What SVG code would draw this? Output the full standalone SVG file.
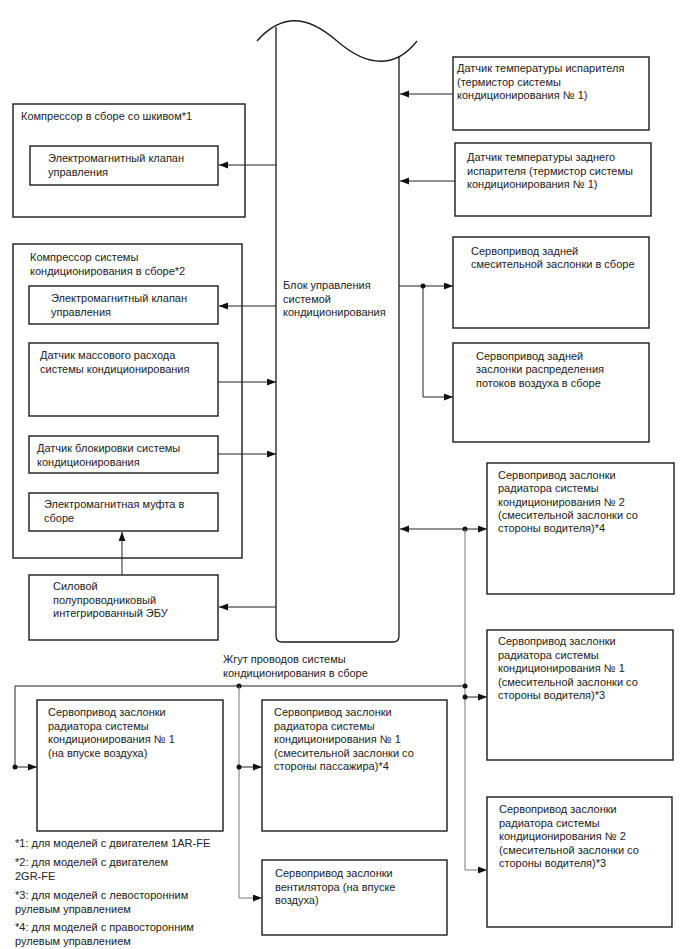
<svg xmlns="http://www.w3.org/2000/svg" width="688" height="949" viewBox="0 0 688 949">
<style>
text{font-family:"Liberation Sans",Arial,sans-serif;font-size:11px;fill:#222}
.box{fill:#fff;stroke:#1a1a1a;stroke-width:1.4}
.blk{fill:none;stroke:#1a1a1a;stroke-width:1.3}
.c{fill:none;stroke:#222;stroke-width:1}
.g{fill:none;stroke:#777;stroke-width:1}
.a{marker-end:url(#ah)}
.dot{fill:#111}
</style>
<defs>
<marker id="ah" markerUnits="userSpaceOnUse" markerWidth="10" markerHeight="8" refX="9" refY="3.5" orient="auto-start-reverse">
<path d="M0,0 L9,3.5 L0,7 z" fill="#111"/>
</marker>
</defs>
<rect width="688" height="949" fill="#fff"/>

<g id="ecu-main">
<path class="blk" d="M257,41 C281,14 306,14 337,41 S396,68 417,41"/>
<path class="blk" d="M276,27 V636 Q276,642 282,642 H393 Q399,642 399,636 V56"/>
<text x="283" y="289">Блок управления</text>
<text x="283" y="302.5">системой</text>
<text x="283" y="316">кондиционирования</text>
</g>

<g id="evap-sensor">
<rect class="box" x="453" y="57" width="196" height="73"/>
<text x="457" y="72">Датчик температуры испарителя</text>
<text x="457" y="85.5">(термистор системы</text>
<text x="457" y="99">кондиционирования № 1)</text>
</g>
<g id="rear-evap-sensor">
<rect class="box" x="455" y="143" width="196" height="73"/>
<text x="467" y="161">Датчик температуры заднего</text>
<text x="467" y="174.5">испарителя (термистор системы</text>
<text x="467" y="188">кондиционирования № 1)</text>
</g>

<g id="compressor1">
<rect class="box" x="13" y="104" width="232" height="113"/>
<text x="21" y="120">Компрессор в сборе со шкивом*1</text>
</g>
<g id="valve1">
<rect class="box" x="30" y="146" width="188" height="39"/>
<text x="48" y="162">Электромагнитный клапан</text>
<text x="48" y="175.5">управления</text>
</g>

<g id="compressor2">
<rect class="box" x="13" y="244" width="229" height="314"/>
<text x="30" y="261">Компрессор системы</text>
<text x="30" y="274.5">кондиционирования в сборе*2</text>
</g>
<g id="valve2">
<rect class="box" x="29" y="286" width="189" height="38"/>
<text x="51" y="302">Электромагнитный клапан</text>
<text x="51" y="315.5">управления</text>
</g>
<g id="mass-flow">
<rect class="box" x="29" y="343" width="189" height="73"/>
<text x="40" y="359">Датчик массового расхода</text>
<text x="40" y="372.5">системы кондиционирования</text>
</g>
<g id="lock-sensor">
<rect class="box" x="29" y="436" width="189" height="37"/>
<text x="37" y="452">Датчик блокировки системы</text>
<text x="37" y="465.5">кондиционирования</text>
</g>
<g id="clutch">
<rect class="box" x="29" y="493" width="189" height="38"/>
<text x="44" y="508">Электромагнитная муфта в</text>
<text x="44" y="521.5">сборе</text>
</g>
<g id="power-ecu">
<rect class="box" x="29" y="575" width="189" height="65"/>
<text x="53" y="590">Силовой</text>
<text x="53" y="603.5">полупроводниковый</text>
<text x="53" y="617">интегрированный ЭБУ</text>
</g>

<g id="rear-mix">
<rect class="box" x="453" y="237" width="196" height="91"/>
<text x="471" y="254.5">Сервопривод задней</text>
<text x="471" y="268">смесительной заслонки в сборе</text>
</g>
<g id="rear-distrib">
<rect class="box" x="453" y="343" width="196" height="99"/>
<text x="476" y="359.5">Сервопривод задней</text>
<text x="476" y="373">заслонки распределения</text>
<text x="476" y="386.5">потоков воздуха в сборе</text>
</g>

<g id="servo2-driver4">
<rect class="box" x="487" y="463" width="187" height="131"/>
<text x="498" y="479">Сервопривод заслонки</text>
<text x="498" y="492.3">радиатора системы</text>
<text x="498" y="505.6">кондиционирования № 2</text>
<text x="498" y="518.9">(смесительной заслонки со</text>
<text x="498" y="532.2">стороны водителя)*4</text>
</g>
<g id="servo1-driver3">
<rect class="box" x="487" y="630" width="186" height="130"/>
<text x="498" y="645">Сервопривод заслонки</text>
<text x="498" y="658.5">радиатора системы</text>
<text x="498" y="672">кондиционирования № 1</text>
<text x="498" y="685.5">(смесительной заслонки со</text>
<text x="498" y="699">стороны водителя)*3</text>
</g>
<g id="servo2-driver3">
<rect class="box" x="487" y="797" width="185" height="130"/>
<text x="499" y="813">Сервопривод заслонки</text>
<text x="499" y="826.5">радиатора системы</text>
<text x="499" y="840">кондиционирования № 2</text>
<text x="499" y="853.5">(смесительной заслонки со</text>
<text x="499" y="867">стороны водителя)*3</text>
</g>

<g id="harness">
<text x="223" y="663">Жгут проводов системы</text>
<text x="223" y="676.5">кондиционирования в сборе</text>
</g>

<g id="servo1-inlet">
<rect class="box" x="37" y="700" width="186" height="131"/>
<text x="48" y="716">Сервопривод заслонки</text>
<text x="48" y="729.5">радиатора системы</text>
<text x="48" y="743">кондиционирования № 1</text>
<text x="48" y="756.5">(на впуске воздуха)</text>
</g>
<g id="servo1-passenger4">
<rect class="box" x="262" y="700" width="185" height="131"/>
<text x="274" y="716">Сервопривод заслонки</text>
<text x="274" y="729.5">радиатора системы</text>
<text x="274" y="743">кондиционирования № 1</text>
<text x="274" y="756.5">(смесительной заслонки со</text>
<text x="274" y="770">стороны пассажира)*4</text>
</g>
<g id="fan-servo">
<rect class="box" x="262" y="860" width="185" height="75"/>
<text x="275" y="877">Сервопривод заслонки</text>
<text x="275" y="890.5">вентилятора (на впуске</text>
<text x="275" y="904">воздуха)</text>
</g>

<g id="footnotes">
<text x="15" y="847">*1: для моделей с двигателем 1AR-FE</text>
<text x="15" y="866">*2: для моделей с двигателем</text>
<text x="15" y="879.5">2GR-FE</text>
<text x="15" y="899">*3: для моделей с левосторонним</text>
<text x="15" y="912.5">рулевым управлением</text>
<text x="15" y="931">*4: для моделей с правосторонним</text>
<text x="15" y="944.5">рулевым управлением</text>
</g>

<g id="connectors">
<path class="c a" d="M453,94 H400"/>
<path class="c a" d="M455,181 H400"/>
<path class="c a" d="M276,165 H219"/>
<path class="c a" d="M276,306 H219"/>
<path class="c a" d="M218,382 H276"/>
<path class="c a" d="M218,454 H276"/>
<path class="c a" d="M276,607 H219"/>
<path class="c a" d="M122,575 V532"/>
<path class="c a" d="M399,286 H453"/>
<path class="c a" d="M423,286 V397 H453"/>
<circle class="dot" cx="423" cy="286" r="2.5"/>
<path class="c a" d="M400,529 H487" marker-start="url(#ah)"/>
<circle class="dot" cx="465" cy="529" r="2.5"/>
<path class="g a" d="M465,529 V870 H487"/>
<path class="c a" d="M465,697 H487"/>
<circle class="dot" cx="465" cy="686" r="2.5"/>
<circle class="dot" cx="465" cy="697" r="2.5"/>
<path class="c" d="M465,686 H15 V767"/>
<path class="c a" d="M15,767 H37"/>
<circle class="dot" cx="15" cy="767" r="2.5"/>
<circle class="dot" cx="239" cy="686" r="2.5"/>
<path class="g a" d="M239,686 V898 H262"/>
<path class="c a" d="M239,767 H262"/>
<circle class="dot" cx="239" cy="767" r="2.5"/>
</g>
</svg>
